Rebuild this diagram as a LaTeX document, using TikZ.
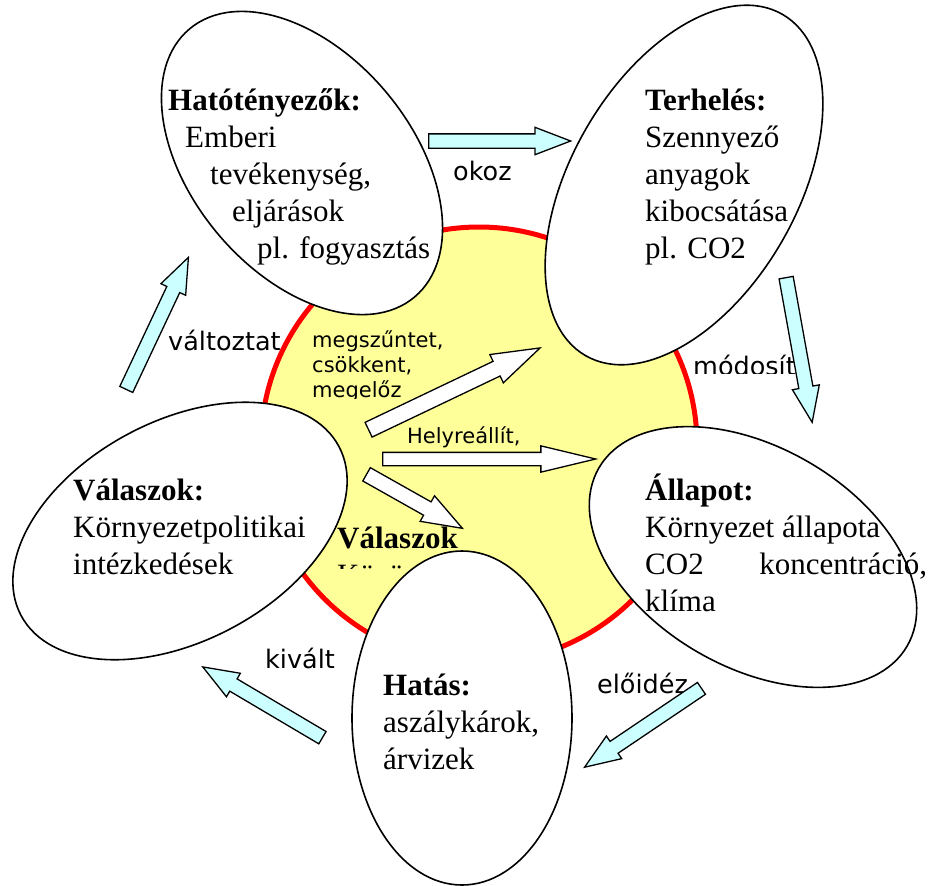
\documentclass[tikz,border=0pt]{standalone}
\usepackage{fontspec}
\setmainfont{Liberation Serif}
\newfontfamily\labelfont{DejaVu Sans}
\usetikzlibrary{shapes.geometric,shapes.arrows}
\definecolor{sunyellow}{HTML}{FFFF99}
\definecolor{flowcyan}{HTML}{CCFFFF}
\tikzset{
    bubble/.style = {ellipse, draw = black, line width = 1.6pt, fill = white, inner sep = 0pt},
    % anchored on the baseline of the last line
    bubbletext/.style = {anchor = base west, inner sep = 0pt, align = left,
        font = \fontsize{31}{37}\selectfont},
    flowlabel/.style = {anchor = base west, inner sep = 0pt, font = \labelfont\fontsize{25.5}{30}\selectfont},
    innerlabel/.style = {anchor = base west, inner sep = 0pt, align = left,
        font = \labelfont\fontsize{21}{25}\selectfont},
    flowarrow/.style = {single arrow, draw = black, line width = 1.3pt, fill = flowcyan,
        inner xsep = 0pt, inner ysep = 6.5pt, anchor = tail,
        single arrow head extend = 6.5pt, single arrow tip angle = 42},
    answerarrow/.style = {flowarrow, fill = white}
}
\begin{document}
\begin{tikzpicture}[x = 1pt, y = -1pt]
    \useasboundingbox (0, 0) rectangle (929, 886);
    % yellow core
    \draw[red, line width = 5pt, fill = sunyellow] (479, 445) circle [radius = 218];
    \scope
        \clip (320, 500) rectangle (480, 568);
        \node[bubbletext] (coretext) at (337, 585) {\textbf{Válaszok}\\Közös};
    \endscope
    % the five stages
    \node[bubble, rotate = -50, minimum width = 350pt, minimum height = 220pt] (hato) at (302, 163) {};
    \node[bubble, rotate = 60, minimum width = 394pt, minimum height = 226pt] (terh) at (684, 185) {};
    \node[bubble, rotate = -30, minimum width = 356pt, minimum height = 220pt] (allap) at (753, 557) {};
    \node[bubble, rotate = 90, minimum width = 334pt, minimum height = 220pt] (hatas) at (462, 718) {};
    \node[bubble, rotate = 28, minimum width = 360pt, minimum height = 220pt] (valasz) at (180, 531) {};
    \node[bubbletext] (hatotext) at (168, 258) {\textbf{Hatótényezők:}\\
        \hspace*{17pt}Emberi\\ \hspace*{42pt}tevékenység,\\
        \hspace*{64pt}eljárások\\ \hspace*{89pt}pl. fogyasztás};
    \node[bubbletext] (terhtext) at (645, 258) {\textbf{Terhelés:}\\Szennyező\\anyagok\\kibocsátása\\pl. CO2};
    \node[bubbletext] (allaptext) at (645, 611) {\textbf{Állapot:}\\Környezet állapota\\
        \makebox[282pt][s]{CO2 koncentráció,}\\klíma};
    \node[bubbletext] (hatastext) at (383, 769) {\textbf{Hatás:}\\aszálykárok,\\árvizek};
    \node[bubbletext] (valasztext) at (73, 574) {\textbf{Válaszok:}\\Környezetpolitikai\\intézkedések};
    % labels
    \node[flowlabel] (okoz) at (453, 180) {okoz};
    \scope
        \clip (680, 330) rectangle (830, 373);
        \node[flowlabel] (modosit) at (693, 375) {módosít};
    \endscope
    \node[flowlabel] (eloidez) at (597, 693) {előidéz};
    \node[flowlabel] (kivalt) at (265, 668) {kivált};
    \node[flowlabel] (valtoztat) at (168, 350) {változtat};
    \scope
        \clip (300, 320) rectangle (480, 398);
        \node[innerlabel] (megszuntet) at (312, 397) {megszűntet,\\csökkent,\\megelőz};
    \endscope
    \node[innerlabel] (helyre) at (407, 443) {Helyreállít,};
    % cycle arrows
    \node[flowarrow, minimum height = 142pt] (okozarrow) at (428, 141) {};
    \node[flowarrow, rotate = -79.8, minimum height = 147pt] (modositarrow) at (786, 277) {};
    \node[flowarrow, rotate = -146, minimum height = 141pt] (eloidezarrow) at (702, 688) {};
    \node[flowarrow, rotate = 149.4, minimum height = 139pt] (kivaltarrow) at (323, 738) {};
    \node[flowarrow, rotate = 64.8, minimum height = 146pt] (valtoztatarrow) at (126, 390) {};
    % answers
    \node[answerarrow, rotate = 25.5, minimum height = 190pt, inner ysep = 7.5pt,
        single arrow head extend = 7.5pt, single arrow tip angle = 36] (terharrow) at (368, 430) {};
    \node[answerarrow, minimum height = 213pt, inner ysep = 6pt,
        single arrow head extend = 6.5pt, single arrow tip angle = 27] (allaparrow) at (382, 459) {};
    \node[answerarrow, rotate = -29.4, minimum height = 110pt, inner ysep = 7pt,
        single arrow head extend = 7pt, single arrow tip angle = 40] (hatasarrow) at (366, 474) {};
\end{tikzpicture}
\end{document}
